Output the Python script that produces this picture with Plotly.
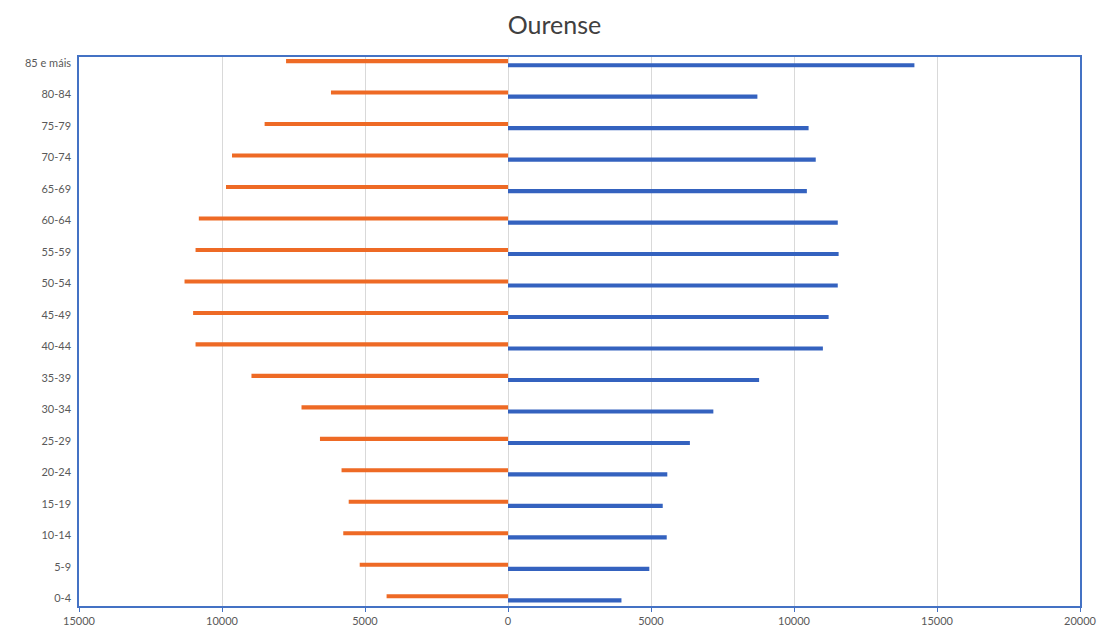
import plotly.graph_objects as go

categories = ["0-4", "5-9", "10-14", "15-19", "20-24", "25-29", "30-34", "35-39",
              "40-44", "45-49", "50-54", "55-59", "60-64", "65-69", "70-74", "75-79",
              "80-84", "85 e máis"]
homes = [4245, 5185, 5760, 5570, 5820, 6575, 7220, 8970,
         10925, 11010, 11310, 10925, 10810, 9860, 9650, 8510, 6190, 7760]
mulleres = [3967, 4941, 5550, 5410, 5570, 6360, 7180, 8780,
            11010, 11210, 11530, 11560, 11530, 10450, 10760, 10510, 8720, 14210]
x_ticks = [-15000, -10000, -5000, 0, 5000, 10000, 15000, 20000]

idx = list(range(len(categories)))
ORANGE = "#EE6A25"
BLUE = "#3462BF"
FRAME = "#4472C4"
FONT = "Lato"

fig = go.Figure()
fig.add_trace(go.Bar(
    y=idx, x=[-v for v in homes], orientation="h", name="Homes",
    marker=dict(color=ORANGE, line=dict(width=0)), width=0.13, offset=-0.005,
))
fig.add_trace(go.Bar(
    y=idx, x=mulleres, orientation="h", name="Mulleres",
    marker=dict(color=BLUE, line=dict(width=0)), width=0.13, offset=-0.135,
))

fig.update_layout(
    width=1109, height=639,
    margin=dict(l=79, r=24, t=57, b=27),
    paper_bgcolor="white", plot_bgcolor="white",
    barmode="overlay", showlegend=False,
    font=dict(family=FONT, size=11, color="#595959"),
    title=dict(text="Ourense", x=0.5, xref="container", xanchor="center",
               y=1 - 25 / 639, yref="container", yanchor="middle",
               font=dict(family=FONT, size=25, color="#404040")),
    xaxis=dict(
        range=[-15000, 20000], tickvals=x_ticks,
        ticktext=[str(abs(v)) for v in x_ticks],
        showgrid=True, gridcolor="#D9D9D9", gridwidth=1,
        zeroline=True, zerolinecolor="#D9D9D9", zerolinewidth=1,
        showline=True, linecolor=FRAME, linewidth=1.5, mirror=True,
        ticks="outside", ticklen=4, tickcolor=FRAME, tickwidth=1,
        tickfont=dict(family=FONT, size=11, color="#595959"),
        fixedrange=True,
    ),
    yaxis=dict(
        range=[-0.25, 17.19], tickvals=idx, ticktext=categories,
        showgrid=False, zeroline=False,
        showline=True, linecolor=FRAME, linewidth=1.5, mirror=True,
        ticks="", ticklabelstandoff=4,
        tickfont=dict(family=FONT, size=11, color="#595959"),
        fixedrange=True,
    ),
)

fig.write_html("out.html", config={"displayModeBar": False},
               post_script="document.body.style.margin='0';")
